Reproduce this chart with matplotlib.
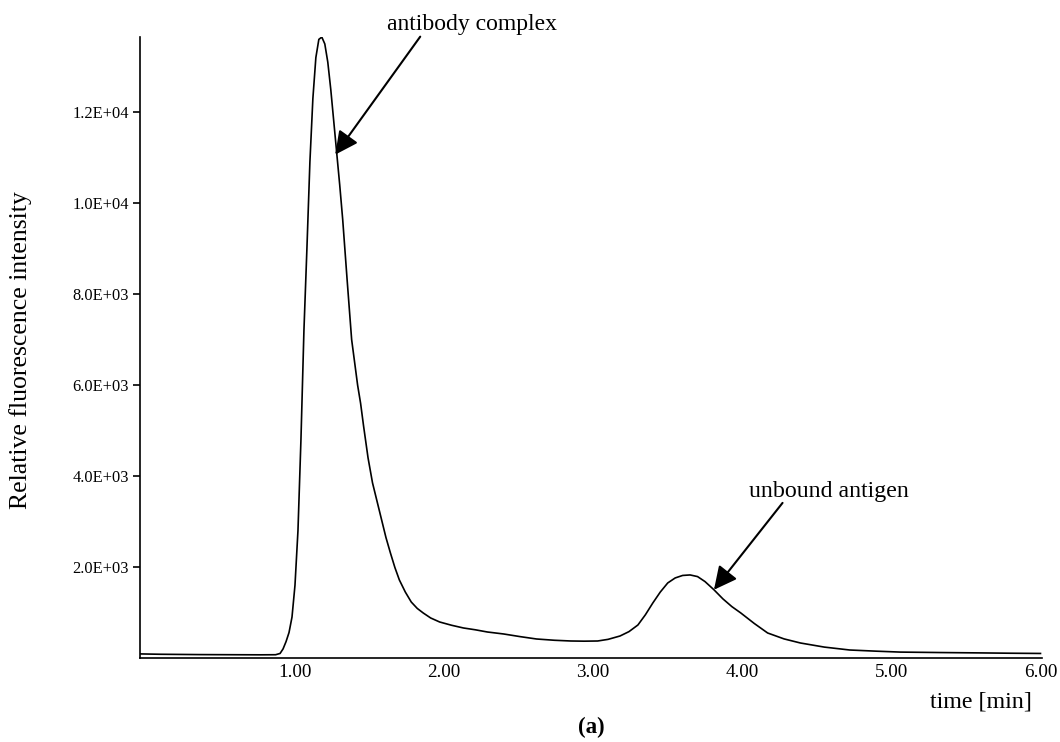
import matplotlib
matplotlib.use("Agg")
import matplotlib.pyplot as plt

plt.rcParams['font.family'] = ['Liberation Serif', 'DejaVu Serif']

# chromatogram trace
time_min = [-0.04, 0.10, 0.36, 0.60, 0.77, 0.87, 0.90, 0.92, 0.94, 0.96, 0.98,
            1.00, 1.02, 1.04, 1.06, 1.08, 1.10, 1.12, 1.14, 1.16, 1.18, 1.20,
            1.22, 1.24, 1.26, 1.28, 1.30, 1.32, 1.35, 1.38, 1.40, 1.42, 1.44,
            1.46, 1.49, 1.52, 1.55, 1.58, 1.61, 1.64, 1.67, 1.70, 1.74, 1.78,
            1.82, 1.86, 1.91, 1.97, 2.05, 2.13, 2.21, 2.29, 2.40, 2.51, 2.62,
            2.74, 2.85, 2.94, 3.03, 3.10, 3.18, 3.24, 3.30, 3.35, 3.40, 3.45,
            3.50, 3.55, 3.60, 3.65, 3.70, 3.75, 3.81, 3.87, 3.93, 3.99, 4.08,
            4.17, 4.28, 4.39, 4.55, 4.72, 4.90, 5.06, 5.33, 5.60, 5.80, 6.00]
intensity = [90, 82, 75, 72, 70, 72, 100, 200, 360, 560, 900,
             1600, 2800, 4800, 7200, 9000, 10900, 12300, 13200, 13600, 13650, 13500,
             13100, 12500, 11800, 11100, 10400, 9640, 8300, 7000, 6500, 6000, 5600,
             5100, 4400, 3850, 3450, 3050, 2650, 2310, 1990, 1716, 1450, 1230,
             1090, 990, 880, 792, 720, 660, 620, 572, 528, 470, 418,
             390, 374, 370, 374, 410, 484, 580, 726, 950, 1210, 1450,
             1650, 1760, 1815, 1826, 1790, 1680, 1500, 1300, 1130, 990, 760,
             550, 420, 330, 240, 176, 150, 130, 120, 112, 105, 100]

x_ticks = [1, 2, 3, 4, 5, 6]
x_labels = ['1.00', '2.00', '3.00', '4.00', '5.00', '6.00']
y_ticks = [2000, 4000, 6000, 8000, 10000, 12000]
y_labels = ['2.0E+03', '4.0E+03', '6.0E+03', '8.0E+03', '1.0E+04', '1.2E+04']

fig = plt.figure(figsize=(10.6, 7.42), dpi=100)
ax = fig.add_axes([0.132, 0.1132, 0.851, 0.8368])

ax.plot(time_min, intensity, color='black', lw=1.2)

ax.set_xlim(-0.04, 6.01)
ax.set_ylim(0, 13650)
ax.spines['top'].set_visible(False)
ax.spines['right'].set_visible(False)
ax.spines['left'].set_linewidth(1.2)
ax.spines['bottom'].set_linewidth(1.2)

ax.set_xticks(x_ticks)
ax.set_xticklabels(x_labels, fontsize=13.8)
ax.tick_params(axis='x', length=0, pad=4)
ax.set_yticks(y_ticks)
ax.set_yticklabels(y_labels, fontsize=11.8)
ax.tick_params(axis='y', length=5, width=1.2, pad=3)

fig.text(0.019, 0.528, 'Relative fluorescence intensity', fontsize=18.5,
         rotation=90, ha='center', va='center')
fig.text(0.925, 0.054, 'time [min]', fontsize=17.3, ha='center', va='center')
fig.text(0.558, 0.019, '(a)', fontsize=16.5, fontweight='bold', ha='center', va='center')

arrow = dict(arrowstyle='-|>,head_length=0.7,head_width=0.35', color='black',
             lw=1.5, mutation_scale=20, shrinkA=0, shrinkB=0)
ax.annotate('', xy=(1.27, 11066), xytext=(1.84, 13660), arrowprops=arrow,
            annotation_clip=False)
ax.text(2.19, 13926, 'antibody complex', fontsize=17, ha='center', va='center',
        clip_on=False)
ax.annotate('', xy=(3.81, 1500), xytext=(4.27, 3410), arrowprops=arrow)
ax.text(4.58, 3650, 'unbound antigen', fontsize=17.2, ha='center', va='center')

fig.savefig('out.png', dpi=100)
